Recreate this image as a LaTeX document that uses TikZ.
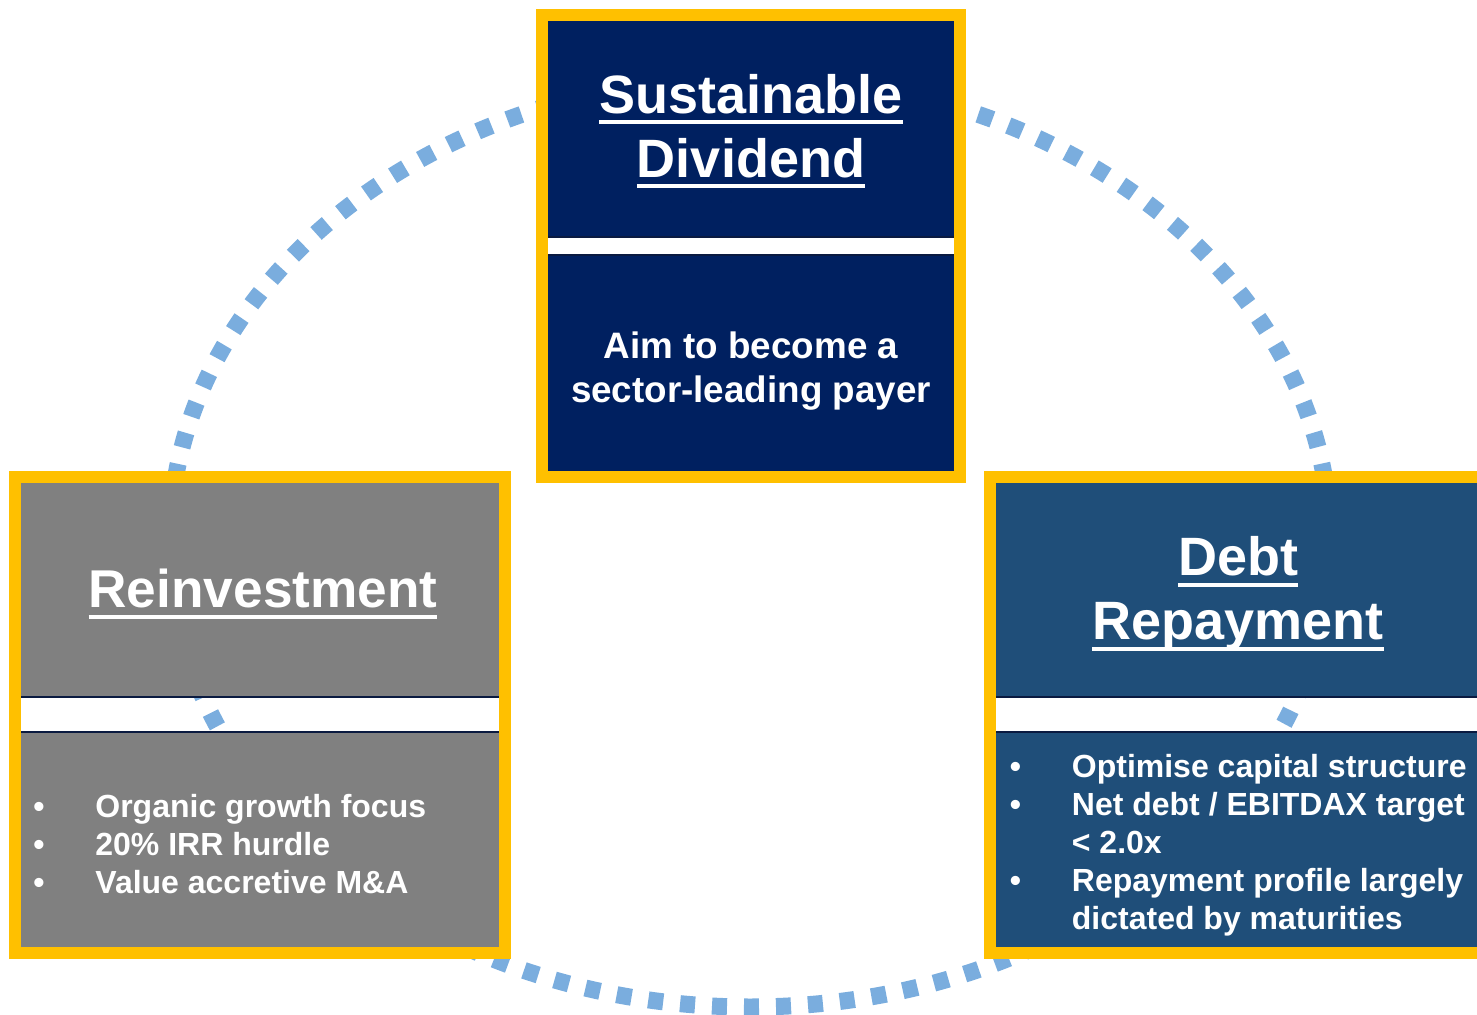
\documentclass[tikz,border=0pt]{standalone}
\usepackage{fontspec}
\setmainfont{Liberation Sans}
\usepackage{xcolor}
\usepackage{tikz}
\usetikzlibrary{fit,positioning}
\definecolor{cfNavy}{HTML}{002060}
\definecolor{cfSlate}{HTML}{1F4E79}
\definecolor{cfGrey}{HTML}{808080}
\definecolor{cfGold}{HTML}{FFC000}
\definecolor{cfDots}{HTML}{7AADDE}
\definecolor{cfEdge}{HTML}{0A1A40}
\newsavebox{\cfulbox}
\newcommand{\cful}[1]{\sbox{\cfulbox}{#1}\rlap{\rule[-0.2em]{\wd\cfulbox}{0.066em}}\usebox{\cfulbox}}
\newcommand{\cfbul}{\makebox[31pt][l]{\textbullet}}
\tikzset{
  cf diagram/.style={x=0.5pt, y=-0.5pt, text=white},
  cf panel/.style={outer sep=0pt, inner sep=0pt},
  cf edge/.style={draw=cfEdge, line width=1pt},
  cf frame/.style={draw=cfGold, line width=6pt, inner sep=3pt},
  cf loop/.style={draw=cfDots, line width=8.5pt, dash pattern=on 7.5pt off 8.5pt},
  cf title/.style={font=\bfseries\fontsize{27}{32}\selectfont, align=center, inner sep=0pt},
  cf body/.style={font=\bfseries\fontsize{18.4}{22}\selectfont, align=center, inner sep=0pt},
  cf list/.style={font=\bfseries\fontsize{16}{19}\selectfont, align=left, inner sep=0pt, anchor=west}
}
\begin{document}
\begin{tikzpicture}[cf diagram]
\useasboundingbox (0,0) rectangle (1477,1015);
\clip (0,0) rectangle (1477,1015);
% dotted loop, behind the boxes
\draw[cf loop] (750,542) ellipse [x radius=290pt, y radius=232.5pt];
% top box
\node[cf panel, fill=cfNavy, minimum width=203pt, minimum height=108pt] (divhead) at (751,129) {};
\node[cf panel, fill=cfNavy, minimum width=203pt, minimum height=108pt] (divbody) at (751,363) {};
\draw[cf edge] (divhead.south west) -- (divhead.south east);
\draw[cf edge] (divbody.north west) -- (divbody.north east);
\node[cf frame, fit=(divhead)(divbody)] (divframe) {};
\node[cf title] (divtitle) at (751,131) {\cful{Sustainable}\\\cful{Dividend}};
\node[cf body] (divtext) at (751,371) {Aim to become a\\sector-leading payer};
% left box
\node[cf panel, fill=cfGrey, minimum width=239pt, minimum height=107pt] (reinhead) at (260,590) {};
\node[cf panel, fill=cfGrey, minimum width=239pt, minimum height=107.5pt] (reinbody) at (260,839.5) {};
\draw[cf edge] (reinhead.south west) -- (reinhead.south east);
\draw[cf edge] (reinbody.north west) -- (reinbody.north east);
\node[cf frame, fit=(reinhead)(reinbody)] (reinframe) {};
\node[cf title, font=\bfseries\fontsize{26.6}{32}\selectfont] (reintitle) at (263,594) {\cful{Reinvestment}};
\node[cf list] (reinlist) at (33,844) {\cfbul Organic growth focus\\\cfbul 20\% IRR hurdle\\\cfbul Value accretive M\&A};
% right box
\node[cf panel, fill=cfSlate, minimum width=242pt, minimum height=107pt] (debthead) at (1238,590) {};
\node[cf panel, fill=cfSlate, minimum width=242pt, minimum height=107.5pt] (debtbody) at (1238,839.5) {};
\draw[cf edge] (debthead.south west) -- (debthead.south east);
\draw[cf edge] (debtbody.north west) -- (debtbody.north east);
\node[cf frame, fit=(debthead)(debtbody)] (debtframe) {};
\node[cf title] (debttitle) at (1238,594) {\cful{Debt}\\\cful{Repayment}};
\node[cf list] (debtlist) at (1009.5,845.5) {\cfbul Optimise capital structure\\\cfbul Net debt / EBITDAX target\\\hspace*{31pt}< 2.0x\\\cfbul Repayment profile largely\\\hspace*{31pt}dictated by maturities};
\end{tikzpicture}
\end{document}
